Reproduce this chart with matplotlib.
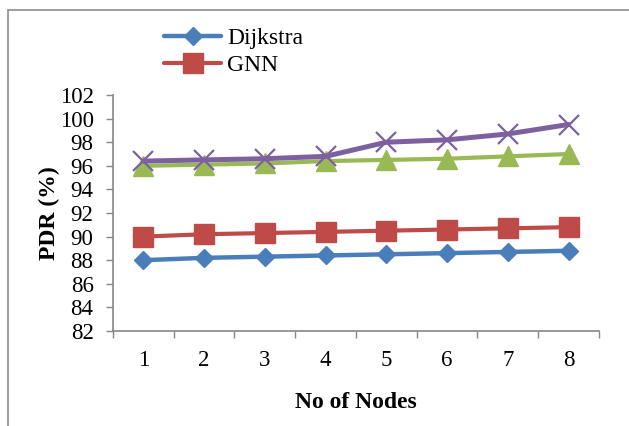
import matplotlib
matplotlib.use("Agg")
import matplotlib.pyplot as plt
from matplotlib.patches import Rectangle

nodes = [1, 2, 3, 4, 5, 6, 7, 8]
dijkstra = [88.0, 88.2, 88.3, 88.4, 88.5, 88.6, 88.7, 88.8]
gnn = [90.0, 90.2, 90.3, 90.4, 90.5, 90.6, 90.7, 90.8]
series_green = [96.0, 96.1, 96.2, 96.4, 96.5, 96.6, 96.8, 97.0]
series_purple = [96.4, 96.5, 96.6, 96.8, 98.0, 98.2, 98.7, 99.5]
y_ticks = [82, 84, 86, 88, 90, 92, 94, 96, 98, 100, 102]

plt.rcParams['font.family'] = ['Liberation Serif', 'DejaVu Serif']

fig = plt.figure(figsize=(6.29, 4.26), dpi=100)
ax = fig.add_axes([113 / 629, 1 - 331 / 426, 486 / 629, 236 / 426])

# outer frame of the chart area
fig.patches.append(Rectangle((8 / 629, -0.1), 1.2, 1.1 - 10 / 426,
                             transform=fig.transFigure, fill=False,
                             edgecolor='#8c8c8c', linewidth=1.2))

l1, = ax.plot(nodes, dijkstra, color='#4A7EBB', lw=3.2, marker='D', ms=9.5,
              solid_capstyle='round', label='Dijkstra')
l2, = ax.plot(nodes, gnn, color='#BE4B48', lw=3.0, marker='s', ms=14,
              solid_capstyle='round', label='GNN')
ax.plot(nodes, series_green, color='#98B954', lw=3.0, marker='^', ms=14,
        solid_capstyle='round')
ax.plot(nodes, series_purple, color='#7D60A0', lw=3.6, marker='x', ms=14,
        mew=1.6, solid_capstyle='round')

ax.set_xlim(0.5, 8.5)
ax.set_ylim(82, 102)
ax.set_yticks(y_ticks)
ax.set_yticklabels([str(v) for v in y_ticks])

# category boundaries carry the tick marks, labels sit at category centres
ax.set_xticks([i + 0.5 for i in range(0, 9)])
ax.set_xticklabels([])
ax.set_xticks(nodes, minor=True)
ax.set_xticklabels([str(n) for n in nodes], minor=True)
ax.tick_params(axis='x', which='major', direction='out', length=5,
               color='#868686', width=1)
ax.tick_params(axis='x', which='minor', length=0, pad=14, labelsize=16.5)
ax.tick_params(axis='y', direction='out', length=5, color='#868686', width=1,
               pad=9, labelsize=16.5)

for side in ('top', 'right'):
    ax.spines[side].set_visible(False)
for side in ('left', 'bottom'):
    ax.spines[side].set_color('#868686')
    ax.spines[side].set_linewidth(1.2)

ax.set_xlabel('No of Nodes', fontsize=17, fontweight='bold')
ax.xaxis.set_label_coords(0.5, -(392 - 331) / 236)
ax.set_ylabel('PDR (%)', fontsize=17, fontweight='bold')
ax.yaxis.set_label_coords(-(113 - 60) / 486, 0.5)

fig.legend(handles=[l1, l2], loc='upper left',
           bbox_to_anchor=(155 / 629, 1 - 18 / 426), frameon=False,
           fontsize=17, handlelength=2.4, handletextpad=0.25,
           labelspacing=0.25, borderaxespad=0)

fig.savefig('out.png', dpi=100)
